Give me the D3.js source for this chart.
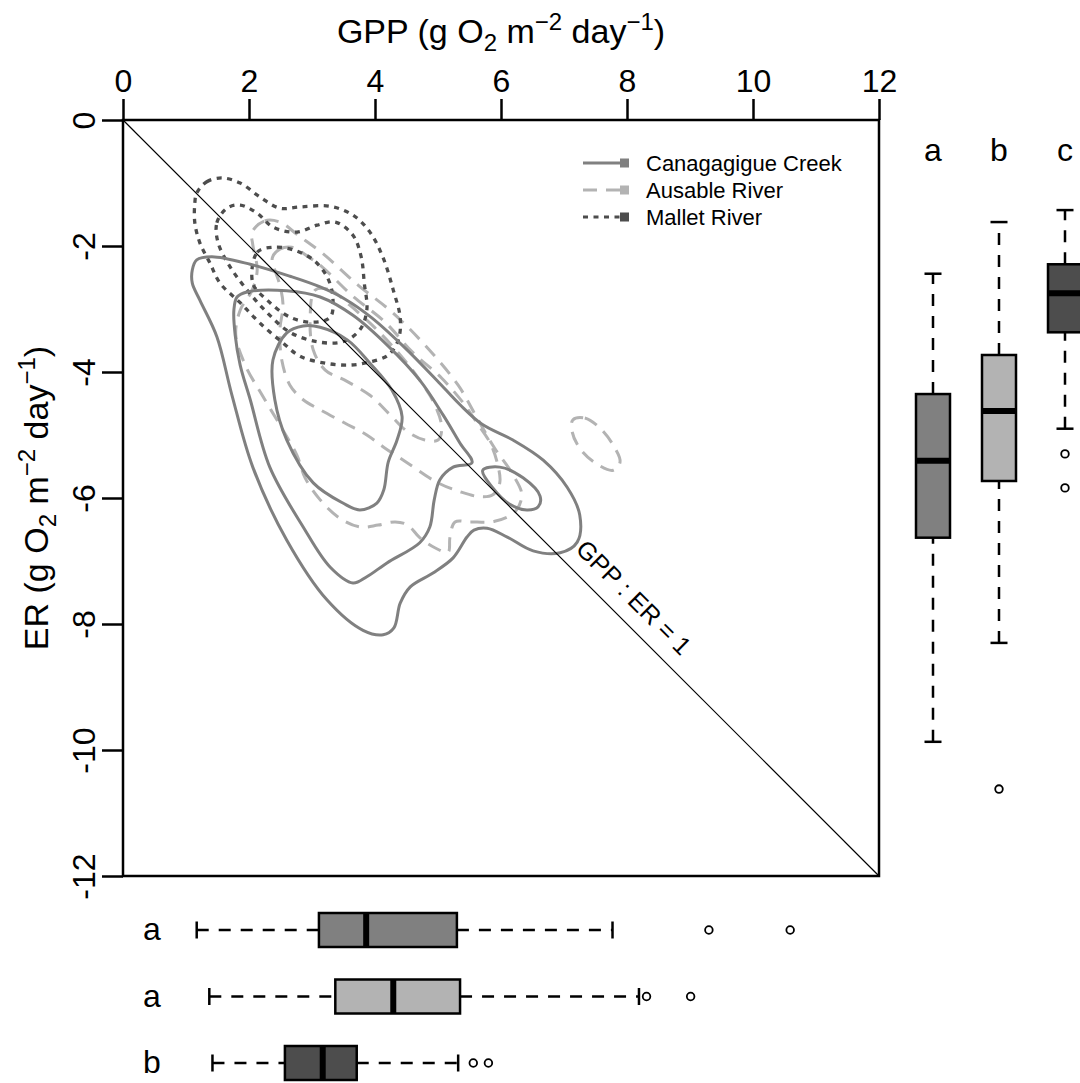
<!DOCTYPE html>
<html>
<head>
<meta charset="utf-8">
<script src="https://cdn.jsdelivr.net/npm/d3@7"></script>
<style>
  body { margin: 0; background: #fff; }
  svg text { font-family: "Liberation Sans", Arial, Helvetica, sans-serif; fill: #000; }
</style>
</head>
<body>
<svg id="chart" width="1080" height="1083"></svg>
<script>
// ---- data ----
const rivers = ["Canagagigue Creek", "Ausable River", "Mallet River"];
const riverColors = ["#808080", "#b3b3b3", "#4d4d4d"];
const gppTicks = [0, 2, 4, 6, 8, 10, 12];
const erTicks = [0, -2, -4, -6, -8, -10, -12];

// box summaries: [lower whisker, Q1, median, Q3, upper whisker]
const gppBoxes = [
  [1.17, 3.11, 3.86, 5.30, 7.77],
  [1.37, 3.37, 4.29, 5.35, 8.19],
  [1.42, 2.57, 3.17, 3.71, 5.32]
];
const gppOutliers = [[9.30, 10.59], [8.31, 9.01], [5.56, 5.80]];
const gppLetters = ["a", "a", "b"];

const erBoxes = [
  [-9.87, -6.63, -5.41, -4.35, -2.44],
  [-8.30, -5.73, -4.62, -3.73, -1.62],
  [-4.90, -3.37, -2.75, -2.29, -1.43]
];
const erOutliers = [[], [-10.62], [-5.30, -5.84]];
const erLetters = ["a", "b", "c"];

// kernel density contour rings, vertices as [GPP, ER]
const canagagigueContours = [
  [[1.10,-2.38],[1.17,-2.22],[1.41,-2.17],[2.02,-2.29],[2.65,-2.48],[3.13,-2.65],[3.52,-2.84],[3.95,-3.14],[4.48,-3.62],[4.98,-4.13],[5.35,-4.52],[5.70,-4.83],[6.19,-5.08],[6.67,-5.40],[7.05,-5.83],[7.25,-6.27],[7.21,-6.70],[6.94,-6.87],[6.51,-6.84],[6.10,-6.62],[5.78,-6.48],[5.57,-6.51],[5.46,-6.62],[5.24,-6.95],[4.92,-7.19],[4.56,-7.41],[4.40,-7.67],[4.30,-8.06],[4.13,-8.17],[3.81,-8.10],[3.24,-7.62],[2.60,-6.67],[2.06,-5.51],[1.73,-4.37],[1.49,-3.44],[1.22,-2.86],[1.10,-2.59]],
  [[1.76,-3.02],[1.81,-2.81],[1.97,-2.73],[2.60,-2.71],[3.13,-2.81],[3.65,-3.10],[4.19,-3.57],[4.71,-4.13],[5.08,-4.68],[5.35,-5.13],[5.54,-5.44],[5.24,-5.51],[5.03,-5.71],[4.94,-6.03],[4.87,-6.46],[4.71,-6.71],[4.19,-7.03],[3.87,-7.25],[3.65,-7.35],[3.29,-7.10],[2.86,-6.46],[2.33,-5.51],[2.02,-4.44],[1.86,-3.89],[1.78,-3.41]],
  [[2.38,-3.81],[2.60,-3.38],[2.86,-3.27],[3.13,-3.29],[3.56,-3.49],[3.92,-3.86],[4.27,-4.29],[4.43,-4.71],[4.35,-5.08],[4.21,-5.43],[4.14,-5.87],[4.03,-6.08],[3.76,-6.19],[3.49,-6.08],[3.02,-5.76],[2.60,-5.08],[2.41,-4.44]],
  [[5.71,-5.56],[5.98,-5.51],[6.35,-5.68],[6.62,-5.97],[6.59,-6.14],[6.41,-6.19],[6.14,-6.10],[5.87,-5.84]]
];

const ausableContours = [
  [[2.05,-1.78],[2.25,-1.60],[2.49,-1.62],[2.78,-1.83],[3.16,-2.11],[3.73,-2.62],[4.27,-3.05],[4.79,-3.57],[5.32,-4.21],[5.62,-4.73],[5.90,-5.21],[6.19,-5.63],[6.33,-5.95],[6.22,-6.22],[5.90,-6.37],[5.51,-6.38],[5.27,-6.38],[5.19,-6.62],[5.16,-6.86],[4.95,-6.79],[4.71,-6.63],[4.52,-6.43],[4.32,-6.38],[4.05,-6.43],[3.76,-6.46],[3.44,-6.32],[3.13,-6.03],[2.89,-5.68],[2.76,-5.32],[2.49,-4.84],[2.21,-4.37],[1.94,-3.89],[1.79,-3.41],[1.86,-3.02],[2.05,-2.70],[2.13,-2.38],[2.06,-1.98]],
  [[2.37,-2.19],[2.49,-2.05],[2.68,-2.02],[2.94,-2.17],[3.16,-2.33],[3.63,-2.78],[4.16,-3.21],[4.59,-3.68],[5.06,-4.10],[5.40,-4.49],[5.62,-4.81],[5.83,-5.13],[5.95,-5.48],[5.98,-5.76],[5.87,-5.95],[5.67,-5.98],[5.35,-5.90],[4.98,-5.75],[4.51,-5.44],[4.16,-5.21],[3.87,-5.00],[3.52,-4.81],[3.13,-4.60],[2.86,-4.44],[2.65,-4.21],[2.52,-3.81],[2.49,-3.33],[2.54,-2.94],[2.49,-2.62],[2.40,-2.35]],
  [[3.05,-2.70],[3.29,-2.70],[3.60,-2.94],[4.00,-3.30],[4.40,-3.73],[4.71,-4.13],[4.95,-4.52],[5.06,-4.89],[5.00,-5.08],[4.79,-5.08],[4.52,-4.95],[4.24,-4.68],[3.92,-4.37],[3.52,-4.13],[3.21,-3.97],[3.02,-3.65],[2.97,-3.17]],
  [[7.14,-4.76],[7.33,-4.73],[7.57,-4.89],[7.78,-5.16],[7.89,-5.43],[7.78,-5.56],[7.49,-5.44],[7.25,-5.21],[7.13,-4.95]]
];

const malletContours = [
  [[1.17,-1.16],[1.33,-0.98],[1.57,-0.92],[1.86,-1.00],[2.17,-1.22],[2.49,-1.40],[2.81,-1.38],[3.29,-1.37],[3.65,-1.51],[3.92,-1.78],[4.13,-2.19],[4.29,-2.70],[4.40,-3.14],[4.37,-3.49],[4.21,-3.73],[3.92,-3.84],[3.60,-3.89],[3.21,-3.86],[2.81,-3.75],[2.54,-3.54],[2.17,-3.22],[1.86,-2.90],[1.54,-2.59],[1.38,-2.27],[1.22,-1.95],[1.14,-1.63],[1.14,-1.32]],
  [[1.51,-1.95],[1.49,-1.63],[1.65,-1.40],[1.86,-1.35],[2.13,-1.48],[2.38,-1.70],[2.76,-1.78],[3.08,-1.67],[3.37,-1.62],[3.65,-1.83],[3.78,-2.17],[3.83,-2.59],[3.87,-3.02],[3.76,-3.33],[3.49,-3.52],[3.08,-3.52],[2.65,-3.37],[2.29,-3.06],[1.97,-2.70],[1.70,-2.33]],
  [[2.06,-2.59],[2.13,-2.10],[2.38,-2.02],[2.70,-2.06],[3.02,-2.22],[3.24,-2.49],[3.33,-2.81],[3.29,-3.13],[3.02,-3.21],[2.65,-3.13],[2.29,-2.86]]
];

// ---- layout ----
const svg = d3.select("#chart");
svg.append("rect").attr("width", 1080).attr("height", 1083).attr("fill", "#fff");

const x = d3.scaleLinear().domain([0, 12]).range([123, 879]);
const y = d3.scaleLinear().domain([0, -12]).range([120, 876]);

const dashFor = ["none", "14,9", "5,5.5"];

// contours
const ring = d3.line()
  .x(d => x(d[0])).y(d => y(d[1]))
  .curve(d3.curveCatmullRomClosed.alpha(0.5));

const contourSets = [ausableContours, malletContours, canagagigueContours];
const contourIdx = [1, 2, 0];
const gC = svg.append("g");
contourSets.forEach((set, k) => {
  const i = contourIdx[k];
  gC.append("g").selectAll("path").data(set).join("path")
    .attr("d", ring)
    .attr("fill", "none")
    .attr("stroke", riverColors[i])
    .attr("stroke-width", i === 2 ? 3.3 : 3)
    .attr("stroke-dasharray", dashFor[i]);
});

// 1:1 line
svg.append("line")
  .attr("x1", x(0)).attr("y1", y(0))
  .attr("x2", x(12)).attr("y2", y(-12))
  .attr("stroke", "#000").attr("stroke-width", 1.2);

svg.append("text")
  .attr("transform", `translate(${x(7.0) + 10.6},${y(-7.0) - 10.6}) rotate(45)`)
  .attr("font-size", 25)
  .text("GPP : ER = 1");

// frame
svg.append("rect")
  .attr("x", x(0)).attr("y", y(0))
  .attr("width", x(12) - x(0)).attr("height", y(-12) - y(0))
  .attr("fill", "none").attr("stroke", "#000").attr("stroke-width", 2.5);

// top axis
const gx = svg.append("g").attr("transform", `translate(0,${y(0)})`)
  .call(d3.axisTop(x).tickValues(gppTicks).tickSize(21).tickSizeOuter(0).tickPadding(7).tickFormat(d3.format("d")));
gx.select(".domain").remove();
gx.selectAll(".tick line").attr("stroke", "#000").attr("stroke-width", 2.5);
gx.selectAll(".tick text").attr("font-size", 32).attr("font-family", null).attr("fill", "#000");

// left axis
const gy = svg.append("g").attr("transform", `translate(${x(0)},0)`)
  .call(d3.axisLeft(y).tickValues(erTicks).tickSize(21).tickSizeOuter(0).tickFormat(d => d === 0 ? "0" : "-" + Math.abs(d)));
gy.select(".domain").remove();
gy.selectAll(".tick line").attr("stroke", "#000").attr("stroke-width", 2.5);
gy.selectAll(".tick text")
  .attr("font-size", 32).attr("font-family", null).attr("fill", "#000")
  .attr("x", null).attr("dy", null)
  .attr("text-anchor", "middle")
  .attr("transform", "translate(-28,0) rotate(-90)");

// axis titles
const xt = svg.append("text").attr("x", (x(0) + x(12)) / 2).attr("y", 43)
  .attr("text-anchor", "middle").attr("font-size", 34);
xt.append("tspan").text("GPP (g O");
xt.append("tspan").attr("font-size", 24).attr("dy", 8).text("2");
xt.append("tspan").attr("dy", -8).text(" m");
xt.append("tspan").attr("font-size", 24).attr("dy", -13).text("\u22122");
xt.append("tspan").attr("dy", 13).text(" day");
xt.append("tspan").attr("font-size", 24).attr("dy", -13).text("\u22121");
xt.append("tspan").attr("dy", 13).text(")");

const yt = svg.append("text")
  .attr("transform", `translate(48,${(y(0) + y(-12)) / 2}) rotate(-90)`)
  .attr("text-anchor", "middle").attr("font-size", 34);
yt.append("tspan").text("ER (g O");
yt.append("tspan").attr("font-size", 24).attr("dy", 8).text("2");
yt.append("tspan").attr("dy", -8).text(" m");
yt.append("tspan").attr("font-size", 24).attr("dy", -13).text("\u22122");
yt.append("tspan").attr("dy", 13).text(" day");
yt.append("tspan").attr("font-size", 24).attr("dy", -13).text("\u22121");
yt.append("tspan").attr("dy", 13).text(")");

// legend
const lg = svg.append("g");
rivers.forEach((name, i) => {
  const cy = 163 + i * 27;
  lg.append("line").attr("x1", 583).attr("x2", 620).attr("y1", cy).attr("y2", cy)
    .attr("stroke", riverColors[i]).attr("stroke-width", 3).attr("stroke-dasharray", dashFor[i]);
  lg.append("rect").attr("x", 620).attr("y", cy - 4.5).attr("width", 9).attr("height", 9)
    .attr("fill", riverColors[i]);
  lg.append("text").attr("x", 646).attr("y", cy + 8).attr("font-size", 22).text(name);
});

// box plots
const whiskerDash = "12,10";
const boxHalf = 17, capHalf = 8.5;

// ER boxes on the right, vertical, sharing the ER scale
const bx = d3.scalePoint().domain(rivers).range([933, 1065]);
const gR = svg.append("g");
rivers.forEach((name, i) => {
  const cx = bx(name), s = erBoxes[i];
  const g = gR.append("g");
  g.append("line").attr("x1", cx).attr("x2", cx).attr("y1", y(s[0])).attr("y2", y(s[1]))
    .attr("stroke", "#000").attr("stroke-width", 2.5).attr("stroke-dasharray", whiskerDash);
  g.append("line").attr("x1", cx).attr("x2", cx).attr("y1", y(s[3])).attr("y2", y(s[4]))
    .attr("stroke", "#000").attr("stroke-width", 2.5).attr("stroke-dasharray", whiskerDash);
  [s[0], s[4]].forEach(v => g.append("line")
    .attr("x1", cx - capHalf).attr("x2", cx + capHalf).attr("y1", y(v)).attr("y2", y(v))
    .attr("stroke", "#000").attr("stroke-width", 2.5));
  g.append("rect").attr("x", cx - boxHalf).attr("width", 2 * boxHalf)
    .attr("y", y(s[3])).attr("height", y(s[1]) - y(s[3]))
    .attr("fill", riverColors[i]).attr("stroke", "#000").attr("stroke-width", 2.5);
  g.append("line").attr("x1", cx - boxHalf).attr("x2", cx + boxHalf).attr("y1", y(s[2])).attr("y2", y(s[2]))
    .attr("stroke", "#000").attr("stroke-width", 6);
  g.selectAll("circle").data(erOutliers[i]).join("circle")
    .attr("cx", cx).attr("cy", d => y(d)).attr("r", 3.8)
    .attr("fill", "none").attr("stroke", "#000").attr("stroke-width", 1.8);
  g.append("text").attr("x", cx).attr("y", 161).attr("text-anchor", "middle")
    .attr("font-size", 32).text(erLetters[i]);
});

// GPP boxes underneath, horizontal, sharing the GPP scale
const by = d3.scalePoint().domain(rivers).range([930, 1063]);
const gB = svg.append("g");
rivers.forEach((name, i) => {
  const cy = by(name), s = gppBoxes[i];
  const g = gB.append("g");
  g.append("line").attr("y1", cy).attr("y2", cy).attr("x1", x(s[0])).attr("x2", x(s[1]))
    .attr("stroke", "#000").attr("stroke-width", 2.5).attr("stroke-dasharray", whiskerDash);
  g.append("line").attr("y1", cy).attr("y2", cy).attr("x1", x(s[3])).attr("x2", x(s[4]))
    .attr("stroke", "#000").attr("stroke-width", 2.5).attr("stroke-dasharray", whiskerDash);
  [s[0], s[4]].forEach(v => g.append("line")
    .attr("y1", cy - capHalf).attr("y2", cy + capHalf).attr("x1", x(v)).attr("x2", x(v))
    .attr("stroke", "#000").attr("stroke-width", 2.5));
  g.append("rect").attr("y", cy - boxHalf).attr("height", 2 * boxHalf)
    .attr("x", x(s[1])).attr("width", x(s[3]) - x(s[1]))
    .attr("fill", riverColors[i]).attr("stroke", "#000").attr("stroke-width", 2.5);
  g.append("line").attr("y1", cy - boxHalf).attr("y2", cy + boxHalf).attr("x1", x(s[2])).attr("x2", x(s[2]))
    .attr("stroke", "#000").attr("stroke-width", 6);
  g.selectAll("circle").data(gppOutliers[i]).join("circle")
    .attr("cy", cy).attr("cx", d => x(d)).attr("r", 3.8)
    .attr("fill", "none").attr("stroke", "#000").attr("stroke-width", 1.8);
  g.append("text").attr("x", 152).attr("y", cy + 10).attr("text-anchor", "middle")
    .attr("font-size", 32).text(gppLetters[i]);
});
</script>
</body>
</html>
